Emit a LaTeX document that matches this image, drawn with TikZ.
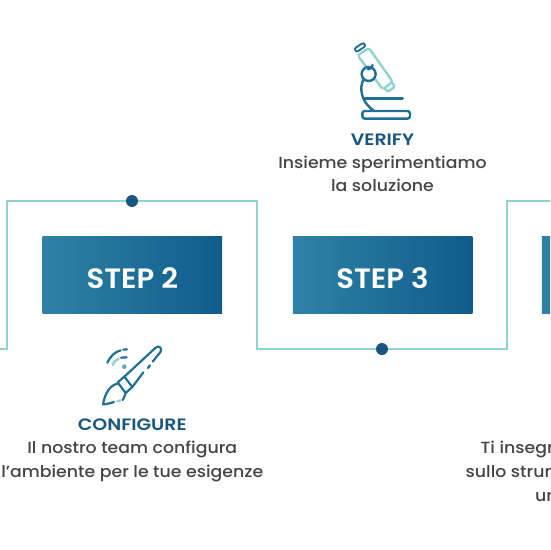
\documentclass[tikz,border=0pt]{standalone}
\usepackage{fontspec}
\setmainfont[FakeStretch=1.07]{Poppins Medium}
\newfontfamily\headfam[FakeStretch=1.15]{Poppins SemiBold}
\newfontfamily\stepfam[FakeStretch=1.04]{Poppins SemiBold}
\usetikzlibrary{shadings}
\definecolor{teal1}{HTML}{8FD3D0}
\definecolor{navy1}{HTML}{18567F}
\definecolor{ink1}{HTML}{1F6F97}
\definecolor{grad1}{HTML}{2F82A5}
\definecolor{grad2}{HTML}{0F5C8C}
\definecolor{body1}{HTML}{454545}
\tikzset{
  stepbox/.style={minimum width=179.5pt,minimum height=77.5pt,inner sep=0pt,left color=grad1,right color=grad2,draw=none},
  steptext/.style={text=white,font=\stepfam\fontsize{28}{28}\selectfont,inner sep=0pt,anchor=base},
  linkline/.style={draw=teal1,line width=2.2pt},
  dotmark/.style={circle,fill=navy1,minimum size=12pt,inner sep=0pt},
  headtext/.style={text=navy1,font=\headfam\fontsize{16.5}{16.5}\selectfont,inner sep=0pt,anchor=base},
  bodytext/.style={text=body1,font=\fontsize{16.2}{16.2}\selectfont,inner sep=0pt,anchor=base},
  icondark/.style={draw=ink1,line width=2.4pt,line cap=round,line join=round},
  iconlight/.style={draw=teal1,line width=2.4pt,line cap=round,line join=round},
  brushline/.style={draw=ink1,line width=2.2pt,line cap=round,line join=round},
}
\begin{document}
\begin{tikzpicture}[x=1pt,y=-1pt]
\useasboundingbox (0,0) rectangle (550,550);
\clip (0,0) rectangle (550,550);
% connector
\coordinate (p0) at (-2,349);
\coordinate (p1) at (7,349);
\coordinate (p2) at (7,201);
\coordinate (p3) at (257,201);
\coordinate (p4) at (257,349);
\coordinate (p5) at (507,349);
\coordinate (p6) at (507,201);
\coordinate (p7) at (552,201);
\draw[linkline] (p0) -- (p1) -- (p2) -- (p3) -- (p4) -- (p5) -- (p6) -- (p7);
\node[dotmark] (d1) at (132,201) {};
\node[dotmark] (d2) at (382,349) {};
% boxes
\node[stepbox] (s2) at (132.3,275.2) {};
\node[stepbox] (s3) at (382.5,275.2) {};
\node[stepbox,anchor=west] (s4) at (541.7,275.2) {};
\node[steptext] (t2) at (132.3,288) {STEP 2};
\node[steptext] (t3) at (382.5,288) {STEP 3};
% microscope
\begin{scope}[shift={(340,30)},x=0.3333pt,y=-0.3333pt]
  \draw[ink1,line width=6pt,line cap=round] (51,58) -- (69,46);
  \draw[white,line width=2pt,line cap=round] (51,58) -- (69,46);
  \draw[iconlight,rounded corners=2.5pt] (53,76) -- (87,54) -- (158,155) -- (128,178) -- cycle;
  \draw[iconlight,rounded corners=2pt] (135,176) -- (143,186) -- (165,170) -- (157,159);
  \draw[icondark,fill=white] (86,132) circle[radius=21];
  \draw[icondark] (84,118) arc[start angle=90,end angle=5,radius=14];
  \draw[icondark] (70,150) .. controls (58,172) and (62,215) .. (100,241);
  \draw[icondark] (73,205) -- (188,205);
  \draw[icondark,rounded corners=2.5pt] (67,243) rectangle (210,266);
\end{scope}
% brush
\begin{scope}[shift={(90,335)},x=0.3333pt,y=-0.3333pt]
  \draw[brushline] (103,125) -- (197,38) .. controls (205,30) and (218,38) .. (212,50) -- (188,80);
  \draw[brushline] (180,91) -- (174,99);
  \draw[brushline] (160,112) -- (127,156);
  \draw[brushline] (103,125) -- (83,142) -- (107,174) -- (127,156);
  \draw[brushline] (103,125) -- (127,156);
  \draw[brushline] (83,146) .. controls (60,150) and (45,175) .. (39,208) .. controls (50,208) and (62,204) .. (72,201);
  \draw[brushline] (107,174) .. controls (106,180) and (102,188) .. (98,195);
  \draw[iconlight] (82,199) -- (91,196);
  \draw[brushline] (52,83) .. controls (60,65) and (75,50) .. (92,46);
  \draw[brushline] (100,44) -- (111,43);
  \draw[iconlight] (68,90) .. controls (72,80) and (78,74) .. (86,71);
  \draw[brushline] (93,68) -- (110,67);
  \fill[teal1!60!ink1] (103,95) circle[radius=7];
\end{scope}
% labels
\node[headtext] (h3) at (382.5,145) {VERIFY};
\node[bodytext] (b3a) at (382.5,168) {Insieme sperimentiamo};
\node[bodytext] (b3b) at (382.5,191) {la soluzione};
\node[headtext] (h2) at (132.3,430) {CONFIGURE};
\node[bodytext] (b2a) at (132.3,453) {Il nostro team configura};
\node[bodytext] (b2b) at (132.3,477) {l’ambiente per le tue esigenze};
\node[bodytext,anchor=base west] (b4a) at (480.5,453) {Ti insegn};
\node[bodytext,anchor=base west] (b4b) at (465.5,477) {sullo strum};
\node[bodytext,anchor=base west] (b4c) at (535,501) {un};
\end{tikzpicture}
\end{document}
